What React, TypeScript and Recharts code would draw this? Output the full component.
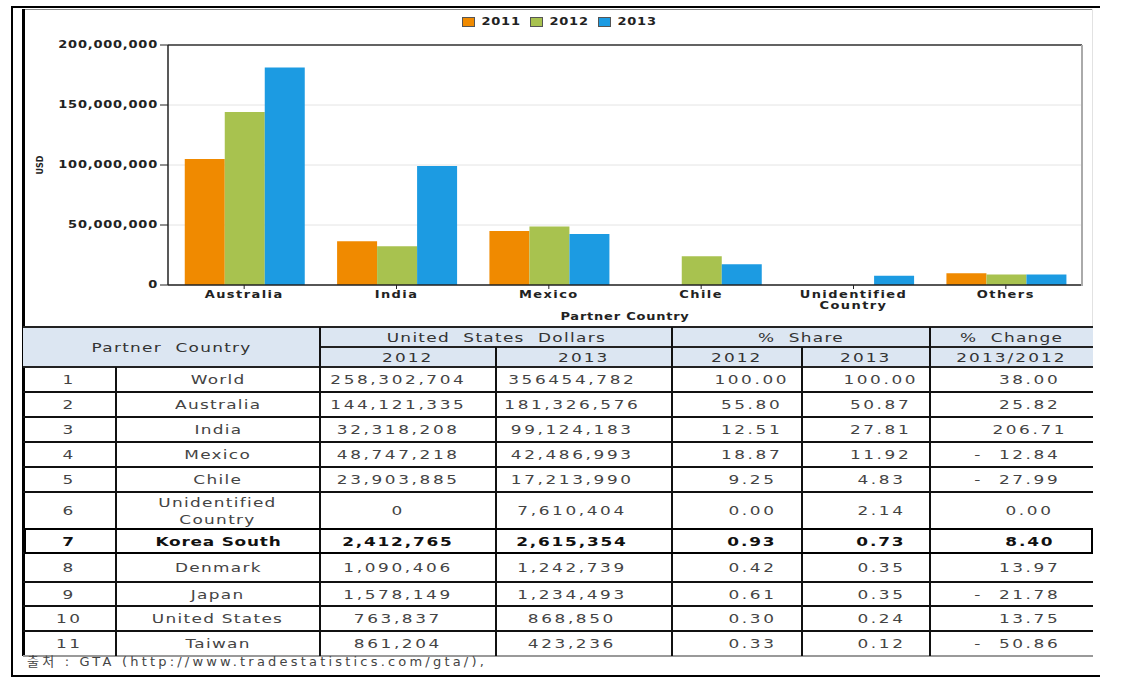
import React from 'react';
import { BarChart, Bar, XAxis, YAxis, CartesianGrid, Legend, ReferenceLine, Text } from 'recharts';

// chart data (USD)
const categories = ['Australia', 'India', 'Mexico', 'Chile', 'Unidentified Country', 'Others'];
const imports2011 = [105000000, 36500000, 45000000, 0, 0, 9800000];
const imports2012 = [144121335, 32318208, 48747218, 23903885, 0, 8700000];
const imports2013 = [181326576, 99124183, 42486993, 17213990, 7610404, 8700000];
const yTicks = [0, 50000000, 100000000, 150000000, 200000000];

const seriesKeys = ['y2011', 'y2012', 'y2013'];
const seriesNames = ['2011', '2012', '2013'];
const seriesColors = ['#F08A00', '#A8C24F', '#1C9BE2'];

// table data
const rankNo = ['1', '2', '3', '4', '5', '6', '7', '8', '9', '10', '11'];
const partnerNames = ['World', 'Australia', 'India', 'Mexico', 'Chile', 'Unidentified\nCountry', 'Korea South', 'Denmark', 'Japan', 'United States', 'Taiwan'];
const usd2012 = ['258,302,704', '144,121,335', '32,318,208', '48,747,218', '23,903,885', '0', '2,412,765', '1,090,406', '1,578,149', '763,837', '861,204'];
const usd2013 = ['356454,782', '181,326,576', '99,124,183', '42,486,993', '17,213,990', '7,610,404', '2,615,354', '1,242,739', '1,234,493', '868,850', '423,236'];
const share2012 = ['100.00', '55.80', '12.51', '18.87', '9.25', '0.00', '0.93', '0.42', '0.61', '0.30', '0.33'];
const share2013 = ['100.00', '50.87', '27.81', '11.92', '4.83', '2.14', '0.73', '0.35', '0.35', '0.24', '0.12'];
const change1312 = ['38.00', '25.82', '206.71', '-12.84', '-27.99', '0.00', '8.40', '13.97', '-21.78', '13.75', '-50.86'];
const highlightRow = 6;
const sourceNote = '출처 : GTA (http://www.tradestatistics.com/gta/),';

const chartData = categories.map((name, i) => ({
  name,
  y2011: imports2011[i],
  y2012: imports2012[i],
  y2013: imports2013[i],
}));

// layout
const colX = [23, 116, 320, 496, 672, 802, 930, 1093];
const headTop = 327;
const headMid = 347;
const headBottom = 367;
const rowBottoms = [392, 417, 442, 467, 492, 529, 553, 582, 606, 631, 656];

const axisFont = 'DejaVu Sans, Verdana, sans-serif';
const tableFont = 'DejaVu Sans, "Noto Sans CJK KR", sans-serif';
const STRETCH = 1.3;

const fmt = (v: number) => v.toLocaleString('en-US');
const stretchAt = (x: number) => `translate(${x} 0) scale(${STRETCH} 1) translate(${-x} 0)`;

const YTick = (props: any) => {
  const { x, y, payload } = props;
  return (
    <g transform={stretchAt(x)}>
      <text x={x} y={y} dy={3.5} textAnchor="end" fill="#222"
        style={{ fontFamily: axisFont, fontSize: 10, fontWeight: 'bold', letterSpacing: 0.6 }}>
        {fmt(payload.value)}
      </text>
    </g>
  );
};

const XTick = (props: any) => {
  const { x, y, payload } = props;
  return (
    <g transform={stretchAt(x)}>
      <Text x={x} y={y} width={80} textAnchor="middle" verticalAnchor="start" lineHeight={11} fill="#222"
        style={{ fontFamily: axisFont, fontSize: 10, fontWeight: 'bold', letterSpacing: 1.1 }}>
        {payload.value}
      </Text>
    </g>
  );
};

const UsdLabel = (props: any) => {
  const { viewBox } = props;
  const cx = 14;
  const cy = viewBox.y + viewBox.height / 2;
  return (
    <text x={cx} y={cy} textAnchor="middle" dominantBaseline="central" transform={`rotate(-90 ${cx} ${cy})`}
      fill="#222" style={{ fontFamily: axisFont, fontSize: 8, fontWeight: 'bold' }}>
      USD
    </text>
  );
};

const XAxisTitle = (props: any) => {
  const { viewBox } = props;
  const cx = viewBox.x + viewBox.width / 2;
  const y = viewBox.y + viewBox.height - 6;
  return (
    <g transform={stretchAt(cx)}>
      <text x={cx} y={y} textAnchor="middle" fill="#222"
        style={{ fontFamily: axisFont, fontSize: 10, fontWeight: 'bold', letterSpacing: 0.6 }}>
        Partner Country
      </text>
    </g>
  );
};

const renderLegend = (props: any) => {
  const { payload } = props;
  return (
    <div style={{ display: 'flex', justifyContent: 'center', alignItems: 'center', gap: 10 }}>
      {payload.map((p: any) => (
        <div key={p.value} style={{ display: 'flex', alignItems: 'center' }}>
          <span style={{ width: 11, height: 8, background: p.color, border: '1px solid #555', marginRight: 11 }} />
          <span style={{ display: 'inline-block', transform: `scaleX(${STRETCH})`, fontFamily: axisFont, fontSize: 10, fontWeight: 'bold', letterSpacing: 0.6, color: '#222', marginRight: 4 }}>{p.value}</span>
        </div>
      ))}
    </div>
  );
};

const hLine = (x0: number, x1: number, y: number, color = '#111', w = 1.5, key?: string) => (
  <div key={key} style={{ position: 'absolute', left: x0, top: y - w / 2, width: x1 - x0, height: w, background: color }} />
);
const vLine = (x: number, y0: number, y1: number, color = '#111', w = 1.5, key?: string) => (
  <div key={key} style={{ position: 'absolute', left: x - w / 2, top: y0, width: w, height: y1 - y0, background: color }} />
);

const cellStyle = (x0: number, x1: number, y0: number, y1: number, extra: React.CSSProperties = {}): React.CSSProperties => ({
  position: 'absolute',
  left: x0,
  top: y0,
  width: x1 - x0,
  height: y1 - y0,
  display: 'flex',
  alignItems: 'center',
  justifyContent: 'center',
  boxSizing: 'border-box',
  fontFamily: tableFont,
  fontSize: 13,
  color: '#444',
  whiteSpace: 'pre',
  textAlign: 'center',
  ...extra,
});

// wide glyphs like the original document font
const Wide = ({ sp, children }: { sp: number; children: React.ReactNode }) => (
  <span style={{ display: 'inline-block', transform: `scaleX(${STRETCH})`, letterSpacing: sp }}>{children}</span>
);

const TXT = 1.0;
const NUM = 2.0;

const DataTable = () => {
  const cells: React.ReactNode[] = [];
  // header
  cells.push(<div key="hbg" style={{ position: 'absolute', left: colX[0], top: headTop, width: colX[7] - colX[0], height: headBottom - headTop, background: '#DCE6F2' }} />);
  const head = { color: '#333' };
  cells.push(<div key="h1" style={cellStyle(colX[0], colX[2], headTop, headBottom, head)}><Wide sp={TXT}>Partner  Country</Wide></div>);
  cells.push(<div key="h2" style={cellStyle(colX[2], colX[4], headTop, headMid, head)}><Wide sp={TXT}>United  States  Dollars</Wide></div>);
  cells.push(<div key="h3" style={cellStyle(colX[4], colX[6], headTop, headMid, head)}><Wide sp={TXT}>%  Share</Wide></div>);
  cells.push(<div key="h4" style={cellStyle(colX[6], colX[7], headTop, headMid, head)}><Wide sp={TXT}>%  Change</Wide></div>);
  const subHeads = ['2012', '2013', '2012', '2013', '2013/2012'];
  subHeads.forEach((t, i) => {
    cells.push(<div key={'sh' + i} style={cellStyle(colX[i + 2], colX[i + 3], headMid, headBottom, head)}><Wide sp={1.6}>{t}</Wide></div>);
  });

  // body
  rankNo.forEach((r, i) => {
    const y0 = i === 0 ? headBottom : rowBottoms[i - 1];
    const y1 = rowBottoms[i];
    const bold = i === highlightRow ? { fontWeight: 'bold' as const, color: '#111' } : {};
    const neg = change1312[i].startsWith('-');
    const nsp = i === highlightRow ? 1.4 : NUM;
    cells.push(<div key={'r' + i} style={cellStyle(colX[0], colX[1], y0, y1, bold)}><Wide sp={NUM}>{r}</Wide></div>);
    cells.push(<div key={'n' + i} style={cellStyle(colX[1], colX[2], y0, y1, { lineHeight: '17px', ...bold })}><Wide sp={i === highlightRow ? 0.6 : TXT}>{partnerNames[i]}</Wide></div>);
    cells.push(<div key={'a' + i} style={cellStyle(colX[2], colX[3], y0, y1, { paddingRight: 20, ...bold })}><Wide sp={nsp}>{usd2012[i]}</Wide></div>);
    cells.push(<div key={'b' + i} style={cellStyle(colX[3], colX[4], y0, y1, { paddingRight: 24, ...bold })}><Wide sp={nsp}>{usd2013[i]}</Wide></div>);
    cells.push(<div key={'c' + i} style={cellStyle(colX[4], colX[5], y0, y1, { paddingLeft: 30, ...bold })}><Wide sp={nsp}>{share2012[i]}</Wide></div>);
    cells.push(<div key={'d' + i} style={cellStyle(colX[5], colX[6], y0, y1, { paddingLeft: 30, ...bold })}><Wide sp={nsp}>{share2013[i]}</Wide></div>);
    cells.push(<div key={'e' + i} style={cellStyle(colX[6], colX[7], y0, y1, { paddingLeft: 36, ...bold })}><Wide sp={nsp}>{neg ? change1312[i].slice(1) : change1312[i]}</Wide></div>);
    if (neg) {
      cells.push(<div key={'m' + i} style={cellStyle(970, 984, y0, y1, bold)}><Wide sp={0}>-</Wide></div>);
    }
    cells.push(hLine(colX[0], colX[7], y1, i === rankNo.length - 1 ? '#999' : '#111', 1.5, 'hl' + i));
  });

  // grid lines
  cells.push(hLine(colX[0], colX[7], headTop, '#222', 1.5, 'ht'));
  cells.push(hLine(colX[2], colX[7], headMid, '#222', 1.5, 'hm'));
  cells.push(hLine(colX[0], colX[7], headBottom, '#222', 1.5, 'hb'));
  cells.push(vLine(colX[1], headBottom, rowBottoms[10], '#111', 1.5, 'v1'));
  cells.push(vLine(colX[2], headTop, rowBottoms[10], '#111', 1.5, 'v2'));
  cells.push(vLine(colX[3], headMid, rowBottoms[10], '#111', 1.5, 'v3'));
  cells.push(vLine(colX[4], headTop, rowBottoms[10], '#111', 1.5, 'v4'));
  cells.push(vLine(colX[5], headMid, rowBottoms[10], '#111', 1.5, 'v5'));
  cells.push(vLine(colX[6], headTop, rowBottoms[10], '#111', 1.5, 'v6'));

  // highlighted row box
  const hy0 = rowBottoms[highlightRow - 1];
  const hy1 = rowBottoms[highlightRow];
  cells.push(<div key="box" style={{ position: 'absolute', left: 24, top: hy0 - 1, width: 1069, height: hy1 - hy0 + 2, border: '2px solid #000', boxSizing: 'border-box' }} />);

  return <>{cells}</>;
};

export default function App() {
  return (
    <div style={{ position: 'absolute', left: 0, top: 0, width: 1121, height: 678, background: '#fff', overflow: 'hidden' }}>
      {/* outer frame */}
      {hLine(11, 1100, 6.5, '#000', 2)}
      {vLine(11.5, 6, 677, '#000', 2)}
      {hLine(11, 1100, 676, '#000', 2)}
      {hLine(23, 1092, 9.5, '#8a8a8a', 1.5)}
      {vLine(1092, 9, 327, '#e2e2e2', 1)}
      {vLine(23.5, 9, 656, '#000', 3)}

      <div style={{ position: 'absolute', left: 26, top: 10 }}>
        <BarChart width={1066} height={316} data={chartData}
          margin={{ top: 35, right: 10, left: 0, bottom: 0 }}
          barCategoryGap="11%" barGap={0}>
          <CartesianGrid vertical={false} stroke="#e4e4e4" />
          <XAxis dataKey="name" height={41} interval={0} tick={<XTick />} tickSize={4} tickMargin={2}
            axisLine={{ stroke: '#222', strokeWidth: 1.5 }} tickLine={{ stroke: '#222' }}
            label={<XAxisTitle />} />
          <YAxis width={142} domain={[0, 200000000]} ticks={yTicks} interval={0} tick={<YTick />}
            tickSize={8} tickMargin={2} axisLine={{ stroke: '#222', strokeWidth: 1.5 }} tickLine={{ stroke: '#222' }}
            label={<UsdLabel />} />
          <ReferenceLine y={200000000} stroke="#333" strokeWidth={1.5} />
          <Legend verticalAlign="middle" align="center" layout="horizontal" content={renderLegend}
            wrapperStyle={{ top: 6, left: 0, width: 1066 }} />
          {seriesKeys.map((k, i) => (
            <Bar key={k} dataKey={k} name={seriesNames[i]} fill={seriesColors[i]} isAnimationActive={false} />
          ))}
        </BarChart>
      </div>
      {/* plot right border */}
      {vLine(1082, 45, 286, '#aaa', 2)}

      <DataTable />

      <div style={{ position: 'absolute', left: 27, top: 651, fontFamily: tableFont, fontSize: 13, color: '#444', letterSpacing: 3.2, whiteSpace: 'pre' }}>
        {sourceNote}
      </div>
    </div>
  );
}
